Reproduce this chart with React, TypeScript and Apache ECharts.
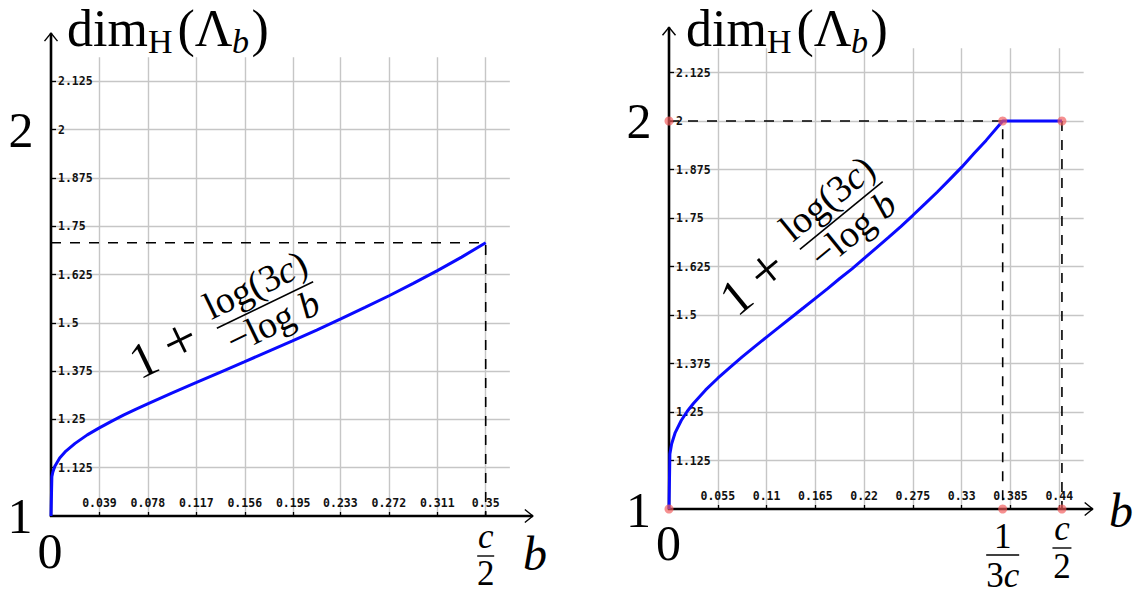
import React, { useEffect, useRef } from "react";
import * as echarts from "echarts";

// ---------------- data ----------------
// left panel: dim_H(Λ_b) against b, up to b = c/2
const leftB = [0, 0.0007, 0.0015, 0.003, 0.007, 0.012, 0.0194, 0.0292, 0.0389, 0.0486, 0.0583, 0.0681, 0.0778, 0.0972, 0.1167, 0.1361, 0.1556, 0.175, 0.1944, 0.2139, 0.2333, 0.2528, 0.2722, 0.2917, 0.3111, 0.3306, 0.35];
const leftDim = [1.0, 1.102, 1.114, 1.128, 1.15, 1.168, 1.188, 1.21, 1.228, 1.245, 1.261, 1.276, 1.29, 1.318, 1.345, 1.372, 1.399, 1.426, 1.453, 1.481, 1.51, 1.54, 1.57, 1.602, 1.635, 1.67, 1.707];
// right panel: rises to 2 at b = 1/(3c), flat to c/2
const rightB = [0, 0.001, 0.003, 0.007, 0.0138, 0.0206, 0.0275, 0.0413, 0.055, 0.0688, 0.0825, 0.0963, 0.11, 0.1238, 0.1375, 0.1513, 0.165, 0.1788, 0.1925, 0.2063, 0.22, 0.2338, 0.2475, 0.2613, 0.275, 0.2888, 0.3025, 0.3163, 0.33, 0.3438, 0.3575, 0.3762, 0.443];
const rightDim = [1.0, 1.142, 1.168, 1.197, 1.228, 1.252, 1.272, 1.307, 1.337, 1.365, 1.392, 1.418, 1.443, 1.468, 1.493, 1.518, 1.543, 1.568, 1.594, 1.619, 1.646, 1.673, 1.7, 1.728, 1.757, 1.787, 1.817, 1.849, 1.881, 1.916, 1.95, 2.0, 2.0];

const leftMarks = [0.35]; // c/2
const rightMarks = [0.3762, 0.443]; // 1/(3c), c/2
const rightLevel = 2;

const leftXTickLabels = ["0.039", "0.078", "0.117", "0.156", "0.195", "0.233", "0.272", "0.311", "0.35"];
const rightXTickLabels = ["0.055", "0.11", "0.165", "0.22", "0.275", "0.33", "0.385", "0.44"];
const yTickLabels = ["1.125", "1.25", "1.375", "1.5", "1.625", "1.75", "1.875", "2", "2.125"];

const leftXStep = 0.0194444;
const leftXMax = 0.3694436;
const rightXStep = 0.0275;
const rightXMax = 0.4675;
const yMin = 1;
const yStep = 0.0625;
const yMax = 2.1875;

// ---------------- styling ----------------
const SERIF = "Liberation Serif";
const MONO = "DejaVu Sans Mono";
const GRID_COLOR = "#c6c6c6";
const BLUE = "#0a0aff";
const DOT = "rgba(242,92,92,0.85)";

function labelFor(v: number, labels: string[]) {
  for (const l of labels) if (Math.abs(Number(l) - v) < 1e-6) return l;
  return "";
}

const tickLabelStyle = { fontFamily: MONO, fontWeight: "bold", fontSize: 11.5, color: "#111" };

function makeXAxis(gridIndex: number, max: number, step: number, labels: string[]) {
  const vals = labels.map(Number);
  return {
    type: "value",
    gridIndex,
    min: 0,
    max,
    interval: step,
    axisLine: { show: false },
    axisTick: { show: true, inside: true, length: 4, customValues: vals, lineStyle: { color: "#000", width: 1.3 } },
    axisLabel: {
      show: true, inside: true, margin: 7, customValues: vals, ...tickLabelStyle,
      formatter: (v: number) => labelFor(v, labels),
    },
    splitLine: { show: true, lineStyle: { color: GRID_COLOR, width: 1.4 } },
  };
}

function makeYAxis(gridIndex: number) {
  const vals = yTickLabels.map(Number);
  return {
    type: "value",
    gridIndex,
    min: yMin,
    max: yMax,
    interval: yStep,
    axisLine: { show: false },
    axisTick: { show: true, inside: true, length: 5, customValues: vals, lineStyle: { color: "#000", width: 1.3 } },
    axisLabel: {
      show: true, inside: true, margin: 7, customValues: vals, ...tickLabelStyle,
      formatter: (v: number) => labelFor(v, yTickLabels),
    },
    splitLine: { show: true, lineStyle: { color: GRID_COLOR, width: 1.4 } },
  };
}

const T = (text: string, x: number, y: number, fontSize: number, o: any = {}) => ({
  type: "text",
  x,
  y,
  z: 30,
  style: {
    text,
    fontFamily: SERIF,
    fontSize,
    fontStyle: o.it ? "italic" : "normal",
    fill: "#000",
    align: o.al || "center",
    textAlign: o.al || "center",
    verticalAlign: "middle",
    textVerticalAlign: "middle",
    lineHeight: o.lh,
    rich: o.rich,
  },
});

const richFrac = (size: number) => ({
  n: { fontFamily: SERIF, fontSize: size, fill: "#000" },
  i: { fontFamily: SERIF, fontSize: size, fontStyle: "italic", fill: "#000" },
});

function dimLabel(dx: number, dy: number) {
  return [
    T("dim", 67 + dx, 28.5 + dy, 52, { al: "left", lh: 40 }),
    T("H", 148 + dx, 41.8 + dy, 34, { al: "left", lh: 30 }),
    T("(Λ", 177.5 + dx, 28.5 + dy, 52, { al: "left", lh: 40 }),
    T("b", 232 + dx, 41.8 + dy, 34, { al: "left", it: true, lh: 30 }),
    T(")", 251.5 + dx, 28.5 + dy, 52, { al: "left", lh: 40 }),
  ];
}

function formula(cx: number, cy: number, angleDeg: number) {
  return {
    type: "group",
    x: cx,
    y: cy,
    rotation: (angleDeg * Math.PI) / 180,
    z: 30,
    children: [
      { type: "line", z: 30, shape: { x1: -53.5, y1: 0, x2: 53.5, y2: 0 }, style: { stroke: "#000", lineWidth: 1.6 } },
      T("{n|log(3}{i|c}{n|)}", 0, -22.8, 38, { rich: richFrac(38) }),
      T("{n|−log }{i|b}", 0, 18.2, 38, { rich: richFrac(38) }),
      T("+", -92, -5.9, 58),
      T("1", -133, -4, 50),
    ],
  };
}

function frac(numText: string, denText: string, cx: number, yNum: number, yBar: number, yDen: number, halfW: number) {
  return [
    T(numText, cx, yNum, 35, { rich: richFrac(35) }),
    { type: "line", z: 30, shape: { x1: cx - halfW, y1: yBar, x2: cx + halfW, y2: yBar }, style: { stroke: "#000", lineWidth: 1.4 } },
    T(denText, cx, yDen, 35, { rich: richFrac(35) }),
  ];
}

function axesGraphic(o: number[], xTip: number, yTip: number) {
  const ln = { stroke: "#000", lineWidth: 2.6 };
  const ar = { stroke: "#000", lineWidth: 1.4, fill: null };
  return [
    { type: "line", z: 1, shape: { x1: o[0] - 1, y1: o[1], x2: xTip, y2: o[1] }, style: ln },
    { type: "line", z: 1, shape: { x1: o[0], y1: o[1] + 1, x2: o[0], y2: yTip }, style: ln },
    { type: "polyline", z: 1, shape: { points: [[xTip - 8, o[1] - 6.5], [xTip, o[1]], [xTip - 8, o[1] + 6.5]] }, style: ar },
    { type: "polyline", z: 1, shape: { points: [[o[0] - 6.5, yTip + 8], [o[0], yTip], [o[0] + 6.5, yTip + 8]] }, style: ar },
  ];
}

export default function App() {
  const ref = useRef<HTMLDivElement>(null);

  useEffect(() => {
    if (!ref.current) return;
    const chart = echarts.init(ref.current, null, { renderer: "svg" });
    const leftTop = leftDim[leftDim.length - 1];
    const dashed = { color: "#000", width: 1.6, type: [10, 9] };

    const option: any = {
      animation: false,
      backgroundColor: "#fff",
      grid: [
        { left: 51, top: 57.15, width: 458.85, height: 458.85 },
        { left: 669, top: 48.25, width: 414.67, height: 460.75 },
      ],
      xAxis: [makeXAxis(0, leftXMax, leftXStep, leftXTickLabels), makeXAxis(1, rightXMax, rightXStep, rightXTickLabels)],
      yAxis: [makeYAxis(0), makeYAxis(1)],
      series: [
        {
          type: "line", xAxisIndex: 0, yAxisIndex: 0, z: 3, symbol: "none", silent: true,
          data: [[0, leftTop], [leftMarks[0], leftTop], [leftMarks[0], yMin]],
          lineStyle: dashed,
        },
        {
          type: "line", xAxisIndex: 0, yAxisIndex: 0, z: 5, symbol: "none", showSymbol: false, clip: false, silent: true,
          data: leftB.map((b, i) => [b, leftDim[i]]),
          lineStyle: { color: BLUE, width: 3 },
        },
        {
          type: "line", xAxisIndex: 1, yAxisIndex: 1, z: 3, symbol: "none", silent: true,
          data: [[0, rightLevel], [rightMarks[0], rightLevel], [rightMarks[0], yMin]],
          lineStyle: dashed,
        },
        {
          type: "line", xAxisIndex: 1, yAxisIndex: 1, z: 3, symbol: "none", silent: true,
          data: [[rightMarks[1], rightLevel], [rightMarks[1], yMin]],
          lineStyle: dashed,
        },
        {
          type: "line", xAxisIndex: 1, yAxisIndex: 1, z: 5, symbol: "none", showSymbol: false, clip: false, silent: true,
          data: rightB.map((b, i) => [b, rightDim[i]]),
          lineStyle: { color: BLUE, width: 3 },
        },
        {
          type: "scatter", xAxisIndex: 1, yAxisIndex: 1, z: 10, symbolSize: 9, silent: true,
          itemStyle: { color: DOT },
          data: [
            [0, rightLevel], [rightMarks[0], rightLevel], [rightMarks[1], rightLevel],
            [0, yMin], [rightMarks[0], yMin], [rightMarks[1], yMin],
          ],
        },
      ],
    };
    chart.setOption(option);

    const pL = (v: number[]) => chart.convertToPixel({ gridIndex: 0 } as any, v) as number[];
    const pR = (v: number[]) => chart.convertToPixel({ gridIndex: 1 } as any, v) as number[];
    const oL = pL([0, yMin]);
    const oR = pR([0, yMin]);
    const lEdge = pL([leftXMax, yMax]);
    const rEdge = pR([rightXMax, yMax]);
    const cL = pL([leftMarks[0], yMin]);
    const r1 = pR([rightMarks[0], yMin]);
    const r2 = pR([rightMarks[1], yMin]);

    const graphic: any[] = [
      ...axesGraphic(oL, lEdge[0] + 23, lEdge[1] - 24),
      ...axesGraphic(oR, rEdge[0] + 9, rEdge[1] - 21),
      ...dimLabel(0, 0),
      ...dimLabel(619, 0),
      // left panel labels
      T("2", 21, 130.1, 50),
      T("1", 20, 516.1, 50),
      T("0", 50, 551.1, 50),
      ...frac("{i|c}", "{n|2}", cL[0], 536.2, 556, 573.2, 8.5),
      T("b", 535, 553.8, 48, { it: true }),
      formula(265, 305, 25.8),
      // right panel labels
      T("2", 639, 121.1, 50),
      T("1", 638.5, 510.1, 50),
      T("0", 668.5, 543.1, 50),
      ...frac("{n|1}", "{n|3}{i|c}", r1[0], 536.2, 555, 575.2, 16.5),
      ...frac("{i|c}", "{n|2}", r2[0], 528.2, 548, 566.2, 9.5),
      T("b", 1121, 510.8, 48, { it: true }),
      formula(841.3, 215.5, 39.3),
    ];
    chart.setOption({ graphic });

    return () => chart.dispose();
  }, []);

  return (
    <div
      ref={ref}
      style={{ position: "fixed", left: 0, top: 0, width: 1142, height: 596, background: "#fff" }}
    />
  );
}
